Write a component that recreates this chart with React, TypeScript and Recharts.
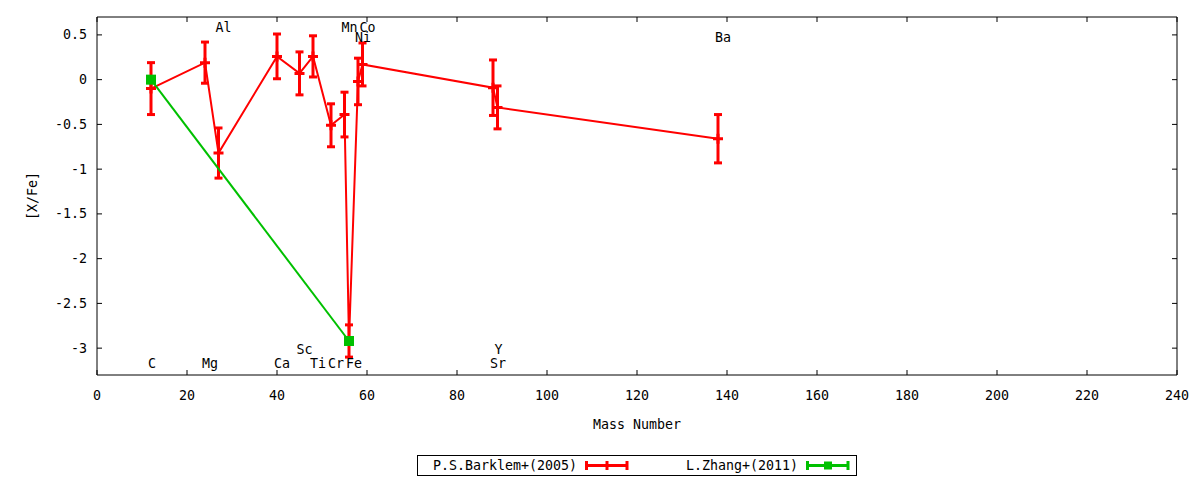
import {
  ComposedChart,
  Line,
  XAxis,
  YAxis,
  ErrorBar,
  Legend,
  ReferenceDot,
} from "recharts";

// element names and their mass numbers (most abundant isotope)
const elements = ["C", "Mg", "Al", "Ca", "Sc", "Ti", "Cr", "Mn", "Fe", "Ni", "Co", "Sr", "Y", "Ba"];
const massNumbers = [12, 24, 27, 40, 45, 48, 52, 55, 56, 58, 59, 88, 89, 138];

// P.S.Barklem+(2005)
const barklemXFe = [-0.1, 0.19, -0.82, 0.26, 0.07, 0.26, -0.51, -0.39, -2.92, -0.02, 0.17, -0.09, -0.31, -0.66];
const barklemErr = [0.29, 0.23, 0.28, 0.25, 0.24, 0.23, 0.24, 0.25, 0.18, 0.26, 0.24, 0.31, 0.24, 0.27];

// L.Zhang+(2011)
const zhangMass = [12, 56];
const zhangXFe = [0.0, -2.92];

// which row each element name sits in: 0/1 above the data, 2/3 below
const labelRows = [3, 3, 0, 3, 2, 3, 3, 0, 3, 1, 0, 3, 2, 1];
const labelRowY = [0.58, 0.47, -3.01, -3.17];

const seriesNames = ["P.S.Barklem+(2005)", "L.Zhang+(2011)"];

const xTicks = [0, 20, 40, 60, 80, 100, 120, 140, 160, 180, 200, 220, 240];
const yTicks = [0.5, 0, -0.5, -1, -1.5, -2, -2.5, -3];

const FONT = "'DejaVu Sans Mono', monospace";
const FONT_SIZE = 13.3;
const RED = "#ff0000";
const GREEN = "#00c000";
const TICK_LEN = 5;
const X_TICK_MARGIN = 20;
const Y_TICK_MARGIN = 10;

const barklemData = massNumbers.map((m, i) => ({
  mass: m,
  xfe: barklemXFe[i],
  err: barklemErr[i],
}));
const zhangData = zhangMass.map((m, i) => ({ mass: m, xfe: zhangXFe[i] }));

const BottomTick = ({ x, y, payload }: any) => (
  <g>
    <line x1={x} x2={x} y1={y - X_TICK_MARGIN} y2={y - X_TICK_MARGIN - TICK_LEN} stroke="#000" />
    <text x={x} y={y} textAnchor="middle" dominantBaseline="central" fontFamily={FONT} fontSize={FONT_SIZE} fill="#000">
      {payload.value}
    </text>
  </g>
);

// mirrored ticks on the top and right borders, pointing into the plot
const TopTick = ({ x, y }: any) => (
  <line x1={x} x2={x} y1={y} y2={y + TICK_LEN} stroke="#000" />
);

const LeftTick = ({ x, y, payload }: any) => (
  <g>
    <line x1={x + Y_TICK_MARGIN} x2={x + Y_TICK_MARGIN + TICK_LEN} y1={y} y2={y} stroke="#000" />
    <text x={x} y={y} textAnchor="end" dominantBaseline="central" fontFamily={FONT} fontSize={FONT_SIZE} fill="#000">
      {payload.value}
    </text>
  </g>
);

const RightTick = ({ x, y }: any) => (
  <line x1={x} x2={x - TICK_LEN} y1={y} y2={y} stroke="#000" />
);

const PlusDot = (props: any) => {
  const { cx, cy, index } = props;
  if (cx == null || cy == null) return <g key={`p-${index}`} />;
  return (
    <path
      key={`p-${index}`}
      d={`M${cx - 5},${cy}h10M${cx},${cy - 5}v10`}
      stroke={RED}
      strokeWidth={3}
      fill="none"
    />
  );
};

const SquareDot = (props: any) => {
  const { cx, cy, index } = props;
  if (cx == null || cy == null) return <g key={`s-${index}`} />;
  return <rect key={`s-${index}`} x={cx - 5} y={cy - 5} width={10} height={10} fill={GREEN} />;
};

const ElementLabel = (name: string) => (props: any) => {
  const { cx, cy } = props;
  return (
    <text x={cx - 3} y={cy} dominantBaseline="central" fontFamily={FONT} fontSize={FONT_SIZE} fill="#000">
      {name}
    </text>
  );
};

// gnuplot-style boxed legend: text right-aligned, errorbar sample on the right
const BoxLegend = ({ payload }: any) => {
  const entryW = 221;
  const items = seriesNames
    .map((n) => (payload || []).find((p: any) => p.value === n))
    .filter(Boolean);
  return (
    <svg width={440} height={21} style={{ display: "block" }}>
      <rect x={0.5} y={0.5} width={439} height={20} fill="#fff" stroke="#000" />
      {items.map((entry: any, i: number) => {
        const ox = i * entryW;
        const color = entry.color;
        const mid = ox + 190;
        return (
          <g key={entry.value}>
            <text x={ox + 160} y={10.5} textAnchor="end" dominantBaseline="central" fontFamily={FONT} fontSize={FONT_SIZE} fill="#000">
              {entry.value}
            </text>
            <line x1={ox + 168} x2={ox + 211} y1={10.5} y2={10.5} stroke={color} strokeWidth={3} />
            <line x1={ox + 169.5} x2={ox + 169.5} y1={6} y2={15} stroke={color} strokeWidth={3} />
            <line x1={ox + 210} x2={ox + 210} y1={6} y2={15} stroke={color} strokeWidth={3} />
            {i === 0 ? (
              <line x1={mid} x2={mid} y1={6} y2={15} stroke={color} strokeWidth={3} />
            ) : (
              <rect x={mid - 4} y={6.5} width={8} height={8} fill={color} />
            )}
          </g>
        );
      })}
    </svg>
  );
};

export default function App() {
  return (
    <div style={{ position: "absolute", left: 0, top: 0, background: "#fff" }}>
      <ComposedChart width={1200} height={480} margin={{ top: 16, right: 22, left: 0, bottom: 45 }}>
        <XAxis
          dataKey="mass"
          type="number"
          domain={[0, 240]}
          ticks={xTicks}
          allowDataOverflow
          height={60}
          tickSize={0}
          tickMargin={X_TICK_MARGIN}
          axisLine={{ stroke: "#000" }}
          tick={<BottomTick />}
          interval={0}
          label={(p: any) => (
            <text
              x={p.viewBox.x + p.viewBox.width / 2}
              y={p.viewBox.y + 49}
              textAnchor="middle"
              dominantBaseline="central"
              fontFamily={FONT}
              fontSize={FONT_SIZE}
              fill="#000"
            >
              Mass Number
            </text>
          )}
        />
        <XAxis
          xAxisId="top"
          orientation="top"
          dataKey="mass"
          type="number"
          domain={[0, 240]}
          ticks={xTicks}
          allowDataOverflow
          height={1}
          tickSize={0}
          tickMargin={0}
          axisLine={{ stroke: "#000" }}
          tick={<TopTick />}
          interval={0}
        />
        <YAxis
          type="number"
          domain={[-3.3, 0.7]}
          ticks={yTicks}
          allowDataOverflow
          width={97}
          tickSize={0}
          tickMargin={Y_TICK_MARGIN}
          axisLine={{ stroke: "#000" }}
          tick={<LeftTick />}
          interval={0}
          label={(p: any) => {
            const cx = p.viewBox.x + 32;
            const cy = p.viewBox.y + p.viewBox.height / 2;
            return (
              <text
                x={cx}
                y={cy}
                transform={`rotate(-90 ${cx} ${cy})`}
                textAnchor="middle"
                dominantBaseline="central"
                fontFamily={FONT}
                fontSize={FONT_SIZE}
                fill="#000"
              >
                [X/Fe]
              </text>
            );
          }}
        />
        <YAxis
          yAxisId="right"
          orientation="right"
          type="number"
          domain={[-3.3, 0.7]}
          ticks={yTicks}
          allowDataOverflow
          width={1}
          tickSize={0}
          tickMargin={0}
          axisLine={{ stroke: "#000" }}
          tick={<RightTick />}
          interval={0}
        />
        <Legend
          layout="horizontal"
          verticalAlign="middle"
          align="center"
          content={<BoxLegend />}
          wrapperStyle={{ left: 417, top: 455, width: 440, height: 21 }}
        />
        <Line
          data={barklemData}
          dataKey="xfe"
          name={seriesNames[0]}
          stroke={RED}
          strokeWidth={2}
          type="linear"
          dot={PlusDot}
          activeDot={false}
          isAnimationActive={false}
        >
          <ErrorBar dataKey="err" direction="y" width={4} stroke={RED} strokeWidth={3} isAnimationActive={false} />
        </Line>
        <Line
          data={zhangData}
          dataKey="xfe"
          name={seriesNames[1]}
          stroke={GREEN}
          strokeWidth={2}
          type="linear"
          dot={SquareDot}
          activeDot={false}
          isAnimationActive={false}
        />
        {elements.map((name, i) => (
          <ReferenceDot
            key={name}
            x={massNumbers[i]}
            y={labelRowY[labelRows[i]]}
            r={0}
            shape={ElementLabel(name)}
          />
        ))}
      </ComposedChart>
    </div>
  );
}
